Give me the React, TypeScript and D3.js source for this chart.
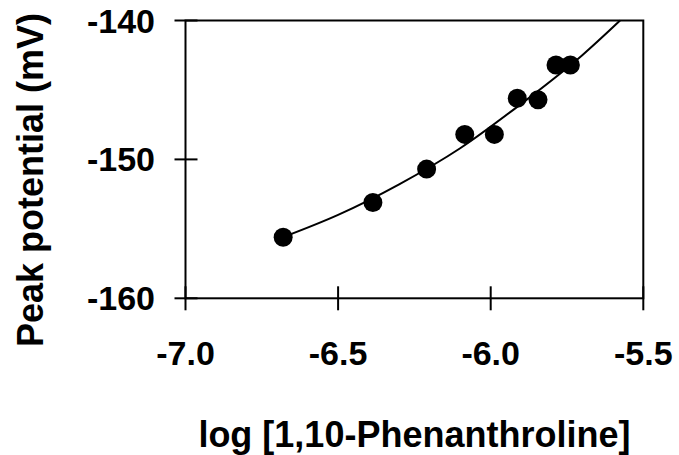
import React, { useEffect, useRef } from "react";
import * as d3 from "d3";

// measured points: log[1,10-Phenanthroline] vs peak potential (mV)
const logConc = [-6.68, -6.386, -6.21, -6.085, -5.988, -5.913, -5.845, -5.786, -5.739];
const peakPotential = [-155.6, -153.1, -150.7, -148.2, -148.2, -145.6, -145.7, -143.2, -143.2];

// fitted curve
const fitX = [-6.68, -6.5, -6.3, -6.1, -5.9, -5.7, -5.576];
const fitY = [-155.6, -154.0, -151.8, -149.2, -146.0, -142.5, -140.0];

const xTicks = [-7.0, -6.5, -6.0, -5.5];
const yTicks = [-160, -150, -140];

const xTitle = "log [1,10-Phenanthroline]";
const yTitle = "Peak potential (mV)";

const W = 679;
const H = 455;

export default function App() {
  const ref = useRef<SVGSVGElement>(null);

  useEffect(() => {
    const svg = d3.select(ref.current);
    svg.selectAll("*").remove();

    const left = 185.5, right = 643.3, top = 20.5, bottom = 298.3;
    const font = "'Liberation Sans', Arial, sans-serif";

    const x = d3.scaleLinear().domain([-7.0, -5.5]).range([left, right]);
    const y = d3.scaleLinear().domain([-160, -140]).range([bottom, top]);

    svg.append("rect").attr("width", W).attr("height", H).attr("fill", "#fff");

    // plot frame
    svg.append("rect")
      .attr("x", left).attr("y", top)
      .attr("width", right - left).attr("height", bottom - top)
      .attr("fill", "none").attr("stroke", "#000").attr("stroke-width", 2);

    // y ticks (cross)
    svg.append("g").selectAll("line").data(yTicks).join("line")
      .attr("x1", left - 11).attr("x2", left + 12)
      .attr("y1", d => y(d)).attr("y2", d => y(d))
      .attr("stroke", "#000").attr("stroke-width", 2);

    svg.append("g").selectAll("text").data(yTicks).join("text")
      .attr("x", 155).attr("y", d => y(d) + 12)
      .attr("text-anchor", "end")
      .attr("font-family", font).attr("font-weight", "bold").attr("font-size", 34)
      .text(d => String(d));

    // x ticks (cross)
    svg.append("g").selectAll("line").data(xTicks).join("line")
      .attr("x1", d => x(d)).attr("x2", d => x(d))
      .attr("y1", bottom - 12).attr("y2", bottom + 12)
      .attr("stroke", "#000").attr("stroke-width", 2);

    svg.append("g").selectAll("text").data(xTicks).join("text")
      .attr("x", d => x(d)).attr("y", 365)
      .attr("text-anchor", "middle")
      .attr("font-family", font).attr("font-weight", "bold").attr("font-size", 34)
      .text(d => d.toFixed(1));

    // axis titles
    svg.append("text")
      .attr("x", (left + right) / 2).attr("y", 447)
      .attr("text-anchor", "middle")
      .attr("font-family", font).attr("font-weight", "bold").attr("font-size", 36)
      .text(xTitle);

    svg.append("text")
      .attr("transform", "translate(43,180) rotate(-90)")
      .attr("text-anchor", "middle")
      .attr("font-family", font).attr("font-weight", "bold").attr("font-size", 36)
      .text(yTitle);

    // fitted curve
    const fit = fitX.map((v, i) => [v, fitY[i]] as [number, number]);
    const line = d3.line<[number, number]>()
      .x(d => x(d[0])).y(d => y(d[1]))
      .curve(d3.curveMonotoneX);
    svg.append("path")
      .attr("d", line(fit))
      .attr("fill", "none").attr("stroke", "#000").attr("stroke-width", 2);

    // data points
    svg.append("g").selectAll("circle").data(logConc).join("circle")
      .attr("cx", d => x(d))
      .attr("cy", (d, i) => y(peakPotential[i]))
      .attr("r", 9.5)
      .attr("fill", "#000");
  }, []);

  return (
    <svg
      ref={ref}
      width={W}
      height={H}
      style={{ position: "absolute", left: 0, top: 0, display: "block" }}
    />
  );
}
